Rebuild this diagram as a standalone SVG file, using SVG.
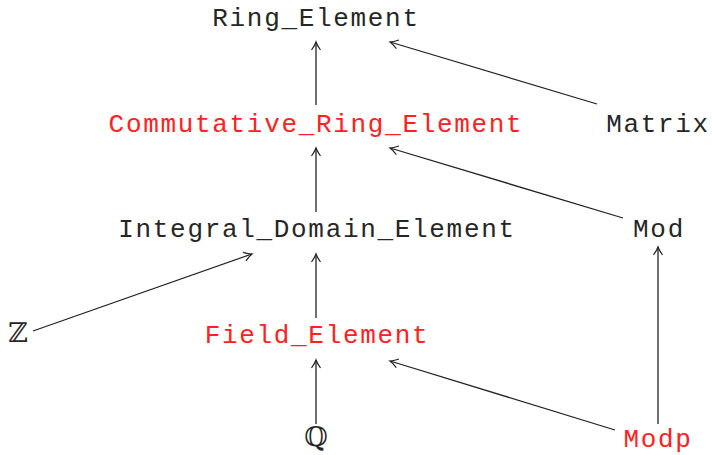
<svg xmlns="http://www.w3.org/2000/svg" width="712" height="455" viewBox="0 0 712 455">
  <style>
    text { font-family: "Liberation Mono", "DejaVu Sans Mono", monospace; font-size: 26px; letter-spacing: 1.68px; text-anchor: middle; fill: #262626; }
    text.hl { fill: #ff2020; }
    text.bb { font-family: "DejaVu Serif", "DejaVu Sans", serif; font-size: 27px; letter-spacing: 0; }
    .edge { stroke: #222; stroke-width: 1.3; fill: none; marker-end: url(#arr); }
  </style>
  <defs>
    <marker id="arr" viewBox="-10 -6 12 12" refX="0" refY="0" markerWidth="12" markerHeight="12" markerUnits="userSpaceOnUse" orient="auto">
      <path d="M-8,-4.5 Q-3,-1 0,0 Q-3,1 -8,4.5" fill="none" stroke="#222" stroke-width="1.2"/>
    </marker>
  </defs>

  <g id="edges">
    <line class="edge" x1="316" y1="105" x2="316" y2="42"/>
    <line class="edge" x1="597" y1="104" x2="390" y2="42"/>
    <line class="edge" x1="316" y1="212" x2="316" y2="148"/>
    <line class="edge" x1="623" y1="218" x2="390" y2="148"/>
    <line class="edge" x1="316" y1="318" x2="316" y2="254"/>
    <line class="edge" x1="33" y1="331" x2="252" y2="254"/>
    <line class="edge" x1="316" y1="424" x2="316" y2="360"/>
    <line class="edge" x1="615" y1="430" x2="390" y2="361"/>
    <line class="edge" x1="658" y1="424" x2="658" y2="247"/>
  </g>

  <g id="ring"><text x="316" y="26">Ring_Element</text></g>
  <g id="commutative"><text class="hl" x="316" y="132">Commutative_Ring_Element</text></g>
  <g id="matrix"><text x="658" y="132">Matrix</text></g>
  <g id="integral"><text x="317" y="237">Integral_Domain_Element</text></g>
  <g id="mod"><text x="659" y="237">Mod</text></g>
  <g id="zed"><text class="bb" x="18" y="342">ℤ</text></g>
  <g id="field"><text class="hl" x="317" y="343">Field_Element</text></g>
  <g id="rationals"><text class="bb" x="316" y="446">ℚ</text></g>
  <g id="modp"><text class="hl" x="658" y="447">Modp</text></g>
</svg>
